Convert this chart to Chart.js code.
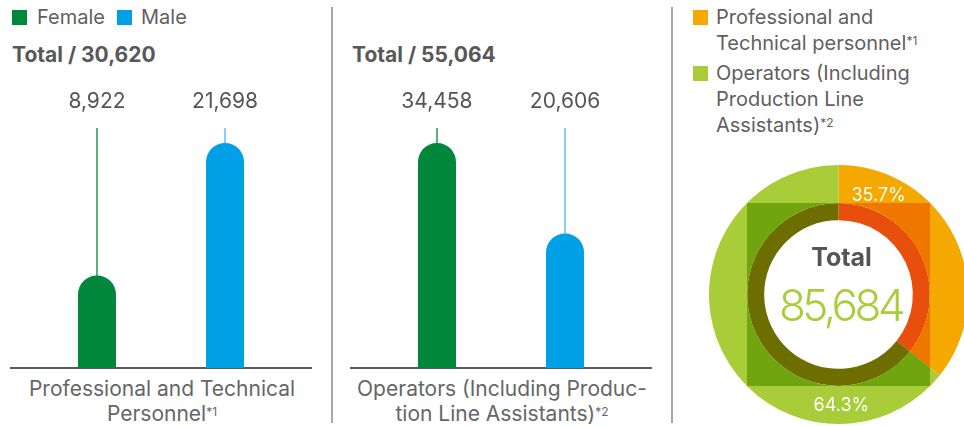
<!DOCTYPE html>
<html>
<head>
<meta charset="utf-8">
<script src="https://cdn.jsdelivr.net/npm/chart.js@4.4.0/dist/chart.umd.min.js"></script>
<style>
html, body { margin:0; padding:0; width:964px; height:426px; overflow:hidden; background:#fff;
  font-family: Inter, "Noto Sans", sans-serif; color:#5a5a5a; }
.sq { position:absolute; width:15px; height:15px; }
.leg { position:absolute; font-size:20px; line-height:26px; color:#5f5f5f; white-space:nowrap; }
.title { position:absolute; font-size:21px; font-weight:700; line-height:24px; color:#585858; }
.cat { position:absolute; font-size:21px; line-height:25px; color:#666; text-align:center; white-space:nowrap; }
sup { font-size:12px; vertical-align:top; position:relative; top:-2px; }
.div { position:absolute; width:2px; background:#a8a8a8; top:7px; height:416px; }
.wrap { position:absolute; }
</style>
</head>
<body>
<!-- legend left -->
<div class="sq" style="left:12px;top:10px;background:#00873c"></div>
<div class="leg" style="left:37px;top:4px">Female</div>
<div class="sq" style="left:117px;top:10px;background:#00a0e6"></div>
<div class="leg" style="left:141px;top:4px">Male</div>

<div class="title" id="t1" style="left:12px;top:43px"></div>
<div class="title" id="t2" style="left:352px;top:43px"></div>

<div class="wrap" style="left:10px;top:80px;width:302px;height:290px"><canvas id="c1"></canvas></div>
<div class="wrap" style="left:350px;top:80px;width:302px;height:290px"><canvas id="c2"></canvas></div>

<div class="cat" style="left:6px;top:376px;width:312px">Professional and Technical<br>Personnel<sup>*1</sup></div>
<div class="cat" style="left:346px;top:376px;width:312px">Operators (Including Produc-<br>tion Line Assistants)<sup>*2</sup></div>

<div class="div" style="left:331px"></div>
<div class="div" style="left:671px"></div>

<!-- legend right -->
<div class="sq" style="left:693px;top:10px;background:#f5a800"></div>
<div class="leg" style="left:716px;top:4px">Professional and<br>Technical personnel<sup>*1</sup></div>
<div class="sq" style="left:693px;top:66px;background:#a8cd38"></div>
<div class="leg" style="left:716px;top:60px">Operators (Including<br>Production Line<br>Assistants)<sup>*2</sup></div>

<div class="wrap" style="left:709px;top:165px;width:259px;height:259px"><canvas id="c3"></canvas></div>

<script>
const genders = ['Female', 'Male'];
const genderColors = ['#00873c', '#00a0e6'];
const leaderColors = ['#00873c', '#4ab6ea'];

const proTech = [8922, 21698];
const operators = [34458, 20606];

const groups = ['Professional and Technical personnel', 'Operators (Including Production Line Assistants)'];
const groupTotals = [30620, 55064];
const grandTotal = 85684;

const outerColors = ['#f5a800', '#a8cd38'];
const squareColors = ['#ef7700', '#70a50f'];
const innerColors = ['#e84e0c', '#6d6d00'];

const fmt = v => v.toLocaleString('en-US');

document.getElementById('t1').textContent = 'Total / ' + fmt(groupTotals[0]);
document.getElementById('t2').textContent = 'Total / ' + fmt(groupTotals[1]);

const barLabels = {
  id: 'barLabels',
  beforeDatasetsDraw(chart) {
    const ctx = chart.ctx, top = chart.chartArea.top;
    chart.data.datasets.forEach((ds, i) => {
      const bar = chart.getDatasetMeta(i).data[0];
      ctx.save();
      ctx.strokeStyle = leaderColors[i];
      ctx.lineWidth = 1.3;
      ctx.beginPath();
      ctx.moveTo(bar.x, top - 15);
      ctx.lineTo(bar.x, bar.y + 6);
      ctx.stroke();
      ctx.restore();
    });
  },
  afterDatasetsDraw(chart) {
    const ctx = chart.ctx, top = chart.chartArea.top;
    chart.data.datasets.forEach((ds, i) => {
      const bar = chart.getDatasetMeta(i).data[0];
      ctx.save();
      ctx.fillStyle = '#555';
      ctx.font = '21px Inter';
      ctx.textAlign = 'center';
      ctx.textBaseline = 'middle';
      ctx.fillText(fmt(ds.data[0]), bar.x, top - 41);
      ctx.restore();
    });
  }
};

function makeBars(id, category, values) {
  return new Chart(document.getElementById(id), {
    type: 'bar',
    data: {
      labels: [category],
      datasets: genders.map((g, i) => ({
        label: g,
        data: [values[i]],
        backgroundColor: genderColors[i],
        borderRadius: 19,
        borderSkipped: 'start',
        categoryPercentage: 0.848,
        barPercentage: 0.297
      }))
    },
    options: {
      responsive: true,
      maintainAspectRatio: false,
      animation: false,
      layout: { padding: { top: 63, bottom: 2, left: 0, right: 0 } },
      plugins: { legend: { display: false }, tooltip: { enabled: false } },
      scales: {
        x: {
          grid: { display: false, drawTicks: false },
          ticks: { display: false },
          border: { display: true, color: '#5a5a5a', width: 2 }
        },
        y: { display: false, min: 0, max: Math.max(...values) }
      }
    },
    plugins: [barLabels]
  });
}

makeBars('c1', groups[0], proTech);
makeBars('c2', groups[1], operators);

// darker square laid over the ring, percentages and centre total
const ringOverlay = {
  id: 'ringOverlay',
  afterDatasetsDraw(chart) {
    const ctx = chart.ctx;
    const arcs = chart.getDatasetMeta(0).data;
    const a0 = arcs[0];
    const cx = a0.x, cy = a0.y, R = a0.outerRadius;
    const half = R / Math.SQRT2;
    ctx.save();
    ctx.beginPath();
    ctx.rect(cx - half, cy - half, half * 2, half * 2);
    ctx.clip();
    arcs.forEach((a, i) => {
      ctx.beginPath();
      ctx.arc(cx, cy, a.outerRadius, a.startAngle, a.endAngle);
      ctx.arc(cx, cy, a.innerRadius, a.endAngle, a.startAngle, true);
      ctx.closePath();
      ctx.fillStyle = squareColors[i];
      ctx.fill();
    });
    ctx.restore();

    // percentages
    const pctPos = [[22, 107], [178.5, 111]];
    ctx.save();
    ctx.fillStyle = '#fff';
    ctx.font = '18px Inter';
    ctx.textAlign = 'center';
    ctx.textBaseline = 'middle';
    chart.data.datasets[0].data.forEach((v, i) => {
      const ang = (pctPos[i][0] - 90) * Math.PI / 180;
      const pct = (v / grandTotal * 100).toFixed(1) + '%';
      ctx.fillText(pct, cx + Math.cos(ang) * pctPos[i][1], cy + Math.sin(ang) * pctPos[i][1]);
    });

    ctx.fillStyle = '#555';
    ctx.font = 'bold 25px Inter';
    ctx.fillText('Total', cx + 3, cy - 36);
    ctx.fillStyle = '#a8cd38';
    ctx.font = '300 44px Inter';
    ctx.letterSpacing = '-3.5px';
    ctx.fillText(fmt(grandTotal), cx + 2, cy + 13);
    ctx.restore();
  }
};

new Chart(document.getElementById('c3'), {
  type: 'doughnut',
  data: {
    labels: groups,
    datasets: [
      { data: groupTotals, backgroundColor: outerColors, borderWidth: 0, weight: 38 },
      { data: groupTotals, backgroundColor: innerColors, borderWidth: 0, weight: 17 }
    ]
  },
  options: {
    responsive: true,
    maintainAspectRatio: false,
    animation: false,
    cutout: '57.4%',
    layout: { padding: 0 },
    plugins: { legend: { display: false }, tooltip: { enabled: false } }
  },
  plugins: [ringOverlay]
});
</script>
</body>
</html>
